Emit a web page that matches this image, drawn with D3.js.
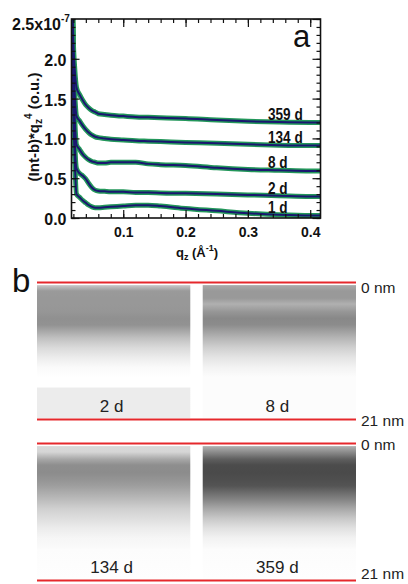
<!DOCTYPE html>
<html>
<head>
<meta charset="utf-8">
<script src="https://cdn.jsdelivr.net/npm/d3@7"></script>
<style>
  body { margin: 0; background: #fff; }
  svg { display: block; }
  .tk text { font-family: Arial, "Liberation Sans", sans-serif; font-weight: bold; fill: #111; }
  .tk .domain { display: none; }
  .tk line { stroke: #111; stroke-width: 1.2; }
</style>
</head>
<body>
<svg id="chart"></svg>
<script>
var width = 408;
var height = 584;

// panel a: reflectivity curves, values in units of 1e-7
var qz = [0.0185, 0.02, 0.022, 0.025, 0.03, 0.035, 0.04, 0.045, 0.05, 0.055, 0.06, 0.07, 0.08,
          0.1, 0.12, 0.14, 0.16, 0.2, 0.25, 0.3, 0.35, 0.4, 0.42];
var curveNames = ["359 d", "134 d", "8 d", "2 d", "1 d"];
var curve359 = [2.7, 2.2, 1.9, 1.64, 1.55, 1.48, 1.42, 1.38, 1.35, 1.33, 1.31, 1.30, 1.29,
                1.28, 1.27, 1.265, 1.26, 1.25, 1.23, 1.215, 1.205, 1.2, 1.2];
var curve134 = [2.7, 2.0, 1.6, 1.28, 1.22, 1.16, 1.11, 1.07, 1.04, 1.02, 1.01, 1.0, 0.99,
                0.98, 0.97, 0.965, 0.96, 0.95, 0.94, 0.925, 0.915, 0.91, 0.91];
var curve8 = [2.7, 1.8, 1.3, 0.92, 0.86, 0.8, 0.76, 0.73, 0.71, 0.70, 0.69, 0.69, 0.70,
              0.70, 0.70, 0.68, 0.67, 0.66, 0.63, 0.61, 0.6, 0.59, 0.59];
var curve2 = [2.7, 1.6, 1.0, 0.62, 0.56, 0.53, 0.49, 0.43, 0.38, 0.35, 0.34, 0.335, 0.33,
              0.33, 0.32, 0.32, 0.315, 0.31, 0.30, 0.29, 0.28, 0.27, 0.27];
var curve1 = [2.7, 1.4, 0.8, 0.3, 0.26, 0.22, 0.19, 0.16, 0.14, 0.13, 0.13, 0.135, 0.14,
              0.15, 0.16, 0.16, 0.15, 0.12, 0.09, 0.06, 0.04, 0.03, 0.03];
var curveValues = [curve359, curve134, curve8, curve2, curve1];
var xTicks = [0.1, 0.2, 0.3, 0.4];
var yTicks = [0, 0.5, 1.0, 1.5, 2.0];

// panel b: grey level (0-255) of each profile vs depth in nm
var depthNm = [0.4, 1.3, 2.4, 3.3, 4.5, 5.5, 6.5, 8.5, 10, 11.5, 13, 14.5, 16, 16.2, 20.8];
var grey2 = [200, 154, 152, 152, 150, 144, 146, 192, 218, 236, 250, 255, 255, 236, 236];
var grey8 = [170, 153, 153, 176, 150, 136, 140, 181, 208, 228, 243, 252, 252, 252, 252];
var grey134 = [216, 214, 168, 142, 140, 148, 158, 186, 208, 222, 236, 246, 250, 252, 254];
var grey359 = [176, 140, 95, 76, 74, 78, 84, 130, 168, 200, 225, 242, 250, 252, 254];
var rowNames = [["2 d", "8 d"], ["134 d", "359 d"]];
var rowGreys = [[grey2, grey8], [grey134, grey359]];

var svg = d3.select("#chart").attr("width", width).attr("height", height);
var defs = svg.append("defs");
var arial = "Arial, 'Liberation Sans', sans-serif";

// ---- panel a ----
var x = d3.scaleLinear().domain([0.017, 0.4165]).range([71.5, 320.5]);
var y = d3.scaleLinear().domain([0, 2.5]).range([218, 19]);

defs.append("clipPath").attr("id", "plotclip")
  .append("rect").attr("x", 71.5).attr("y", 19).attr("width", 249).attr("height", 199);

var line = d3.line()
  .x(function (d, i) { return x(qz[i]); })
  .y(function (d) { return y(d); })
  .curve(d3.curveMonotoneX);

var plot = svg.append("g").attr("clip-path", "url(#plotclip)");
curveValues.forEach(function (vals) {
  plot.append("path").attr("d", line(vals))
    .attr("fill", "none").attr("stroke", "#23975a").attr("stroke-width", 5)
    .attr("stroke-linejoin", "round");
});
curveValues.forEach(function (vals) {
  plot.append("path").attr("d", line(vals))
    .attr("fill", "none").attr("stroke", "#1a1670").attr("stroke-width", 2)
    .attr("stroke-linejoin", "round");
});

var minorX = d3.range(0.02, 0.42, 0.02);
var minorY = d3.range(0, 2.51, 0.1);

function addAxis(axis, tx, ty) {
  return svg.append("g").attr("class", "tk").attr("transform", "translate(" + tx + "," + ty + ")").call(axis);
}
// inward ticks on all four sides
addAxis(d3.axisBottom(x).tickValues(minorX).tickSize(-4).tickFormat(""), 0, 218);
addAxis(d3.axisTop(x).tickValues(minorX).tickSize(-4).tickFormat(""), 0, 19);
addAxis(d3.axisLeft(y).tickValues(minorY).tickSize(-4).tickFormat(""), 71.5, 0);
addAxis(d3.axisRight(y).tickValues(minorY).tickSize(-4).tickFormat(""), 320.5, 0);

var xa = addAxis(d3.axisBottom(x).tickValues(xTicks).tickSize(-8).tickPadding(9).tickFormat(d3.format(".1f")), 0, 218);
xa.selectAll("text").style("font-size", "14px");
addAxis(d3.axisTop(x).tickValues(xTicks).tickSize(-8).tickFormat(""), 0, 19);
var ya = addAxis(d3.axisLeft(y).tickValues(yTicks).tickSize(-8).tickPadding(5).tickFormat(d3.format(".1f")), 71.5, 0);
ya.selectAll("text").style("font-size", "16px").attr("dy", "0.4em");
addAxis(d3.axisRight(y).tickValues(yTicks.concat([2.5])).tickSize(-8).tickFormat(""), 320.5, 0);

svg.append("rect").attr("x", 71.5).attr("y", 19).attr("width", 249).attr("height", 199)
  .attr("fill", "none").attr("stroke", "#111").attr("stroke-width", 1.6);

var topLab = svg.append("text").attr("x", 12).attr("y", 30)
  .attr("font-family", arial).attr("font-weight", "bold").attr("font-size", 16).attr("fill", "#111");
topLab.append("tspan").text("2.5x10");
topLab.append("tspan").attr("dy", -8).attr("font-size", 10).text("-7");

var yTitle = svg.append("text")
  .attr("transform", "translate(39,127) rotate(-90)")
  .attr("text-anchor", "middle")
  .attr("font-family", arial).attr("font-weight", "bold").attr("font-size", 15).attr("fill", "#111");
yTitle.append("tspan").text("(Int-b)*q");
yTitle.append("tspan").attr("dy", 3).attr("font-size", 10).text("z");
yTitle.append("tspan").attr("dy", -10).attr("font-size", 10).text("4");
yTitle.append("tspan").attr("dy", 7).text(" (o.u.)");

var xTitle = svg.append("text").attr("x", 197).attr("y", 257)
  .attr("text-anchor", "middle")
  .attr("font-family", arial).attr("font-weight", "bold").attr("font-size", 13).attr("fill", "#111");
xTitle.append("tspan").text("q");
xTitle.append("tspan").attr("dy", 3).attr("font-size", 9).text("z");
xTitle.append("tspan").attr("dy", -3).text(" (Å");
xTitle.append("tspan").attr("dy", -6).attr("font-size", 9).text("-1");
xTitle.append("tspan").attr("dy", 6).text(")");

// curve labels sit just above the right end of each curve, in a narrowed bold face
curveNames.forEach(function (name, i) {
  var v = curveValues[i][curveValues[i].length - 3];
  svg.append("g").attr("transform", "translate(268," + (y(v) - 2) + ") scale(0.85,1)")
    .append("text")
    .attr("font-family", arial).attr("font-weight", "bold").attr("font-size", 16)
    .attr("fill", "#111").text(name);
});

svg.append("text").attr("x", 293).attr("y", 47)
  .attr("font-family", arial).attr("font-size", 31)
  .attr("fill", "#111").text("a");

// ---- panel b ----
svg.append("text").attr("x", 12).attr("y", 292)
  .attr("font-family", arial).attr("font-size", 33)
  .attr("fill", "#111").text("b");

var band = d3.scaleBand().domain([0, 1]).range([37, 356]).paddingInner(0.075);
var rowTops = [282.5, 443.5];

rowTops.forEach(function (top, r) {
  var depth = d3.scaleLinear().domain([0, 21]).range([top, top + 137]);
  var d0 = depthNm[0], d1 = depthNm[depthNm.length - 1];

  [0, 1].forEach(function (c) {
    var gid = "grad" + r + c;
    var grad = defs.append("linearGradient").attr("id", gid)
      .attr("x1", 0).attr("y1", 0).attr("x2", 0).attr("y2", 1);
    grad.selectAll("stop").data(rowGreys[r][c]).enter().append("stop")
      .attr("offset", function (g, i) { return (depthNm[i] - d0) / (d1 - d0); })
      .attr("stop-color", function (g) { return d3.rgb(g, g, g); });

    svg.append("rect")
      .attr("x", band(c)).attr("width", band.bandwidth())
      .attr("y", depth(d0)).attr("height", depth(d1) - depth(d0))
      .attr("fill", "url(#" + gid + ")");

    svg.append("text")
      .attr("x", band(c) + band.bandwidth() / 2 - 2).attr("y", depth(19.8))
      .attr("text-anchor", "middle")
      .attr("font-family", arial).attr("font-size", 17)
      .attr("fill", "#222").text(rowNames[r][c]);
  });

  [0, 21].forEach(function (nm) {
    var off = 6.5;
    if (r == 0 && nm == 0) off = 10;
    if (r == 1 && nm == 21) off = -1.5;
    svg.append("line")
      .attr("x1", 37).attr("x2", 356)
      .attr("y1", depth(nm)).attr("y2", depth(nm))
      .attr("stroke", "#e5282c").attr("stroke-width", 2.2);
    svg.append("text").attr("x", 361).attr("y", depth(nm) + off)
      .attr("font-family", arial).attr("font-size", 15.5)
      .attr("fill", "#222").text(nm + " nm");
  });
});
</script>
</body>
</html>
